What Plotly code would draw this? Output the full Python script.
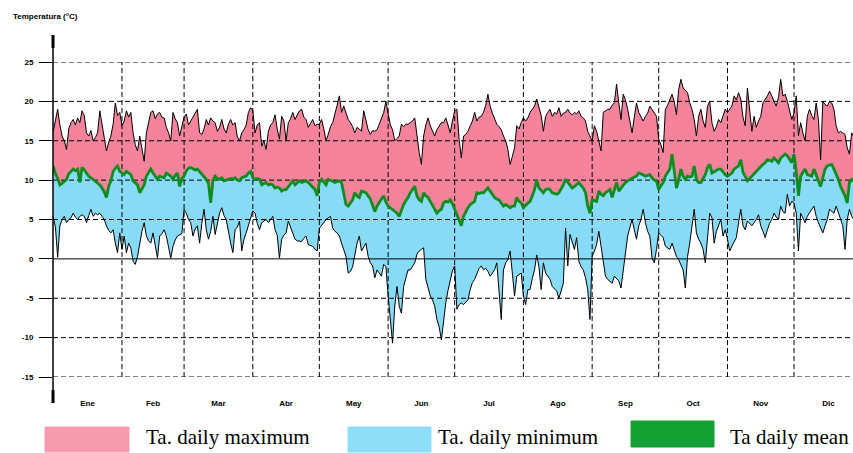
import plotly.graph_objects as go

# ---------------- data (daily values, °C) ----------------
month_labels = ["Ene", "Feb", "Mar", "Abr", "May", "Jun", "Jul", "Ago", "Sep", "Oct", "Nov", "Dic"]
month_days = [31, 28, 31, 30, 31, 30, 31, 31, 30, 31, 30, 31]
y_ticks = [-15, -10, -5, 0, 5, 10, 15, 20, 25]

t_max = [
    16.2, 17.5, 19.0, 17.0, 15.6, 15.0, 13.9, 16.5, 17.3, 17.7, 17.0, 17.9, 17.3, 18.8, 18.2, 16.0, 15.6, 16.3, 15.0, 15.4, 16.0, 18.8, 17.0, 15.6, 13.7, 14.8, 15.6, 17.1, 19.8, 18.2, 18.6,
    16.9, 17.5, 18.8, 18.0, 18.6, 16.0, 14.5, 13.7, 15.6, 14.0, 12.4, 16.0, 17.5, 18.6, 18.8, 17.8, 18.4, 18.6, 18.0, 17.9, 16.7, 16.0, 15.0, 18.6, 17.8, 17.3, 15.6, 16.8,
    18.0, 18.4, 17.0, 17.5, 18.1, 18.5, 19.0, 16.0, 15.8, 16.5, 17.7, 17.0, 17.9, 17.5, 17.3, 16.2, 16.7, 17.7, 16.5, 16.0, 17.1, 17.7, 17.0, 17.3, 15.5, 15.0, 16.0, 16.4, 17.0, 18.6, 19.2,
    18.8, 16.0, 17.0, 17.3, 14.3, 15.0, 13.9, 16.2, 17.0, 17.3, 18.3, 16.5, 15.2, 18.1, 17.5, 15.0, 17.3, 17.8, 18.6, 17.7, 18.2, 18.8, 19.0, 18.0, 17.7, 16.7, 17.2, 17.7, 16.9, 17.1,
    17.1, 17.7, 16.5, 15.0, 15.8, 16.8, 17.3, 18.3, 19.5, 20.7, 18.6, 19.4, 18.5, 17.7, 17.3, 16.8, 16.0, 16.7, 16.5, 16.2, 18.8, 17.5, 16.4, 15.8, 16.3, 16.2, 16.4, 17.1, 17.8, 18.6, 20.0,
    18.3, 17.0, 16.4, 15.0, 15.3, 15.6, 17.1, 16.8, 17.1, 17.1, 17.3, 17.5, 17.9, 15.6, 13.5, 12.0, 15.6, 17.0, 17.9, 16.9, 16.2, 15.6, 16.4, 16.8, 17.3, 17.3, 17.9, 17.0, 16.0, 17.5,
    18.8, 19.0, 15.2, 12.8, 15.6, 15.8, 16.2, 16.9, 17.5, 18.6, 17.5, 18.0, 18.1, 18.6, 19.5, 20.9, 19.4, 18.5, 17.7, 17.1, 16.8, 16.4, 15.6, 15.0, 13.9, 12.0, 13.0, 14.1, 16.9, 16.5, 17.3,
    17.9, 17.5, 17.9, 18.6, 19.0, 19.4, 20.3, 19.4, 18.2, 16.2, 18.1, 18.6, 19.0, 18.1, 18.6, 18.4, 19.2, 18.1, 18.5, 18.6, 19.0, 18.5, 18.3, 18.6, 18.4, 18.8, 18.1, 17.9, 17.5, 16.2, 15.5,
    15.0, 16.9, 16.2, 15.0, 13.7, 18.6, 18.8, 19.0, 19.0, 19.5, 19.8, 22.2, 19.8, 17.7, 20.9, 20.2, 19.0, 17.7, 16.0, 18.0, 19.8, 18.6, 18.0, 17.5, 18.1, 18.5, 19.4, 19.0, 18.6, 18.1,
    15.2, 14.5, 13.5, 19.0, 19.5, 20.3, 20.9, 20.0, 18.3, 21.5, 22.8, 21.7, 21.4, 21.1, 19.8, 19.0, 17.7, 15.6, 18.1, 19.0, 17.5, 16.7, 19.4, 20.0, 17.3, 16.2, 16.8, 17.7, 17.3, 18.2, 19.0,
    18.6, 19.0, 19.4, 20.7, 20.2, 21.1, 20.3, 18.0, 16.9, 21.7, 19.0, 16.2, 18.1, 16.7, 17.5, 18.1, 19.8, 20.2, 20.7, 21.3, 20.7, 20.0, 19.4, 20.5, 22.8, 20.7, 20.9, 20.0, 19.0, 17.7,
    18.5, 20.7, 15.6, 17.3, 16.0, 15.0, 18.1, 19.0, 18.2, 17.7, 19.8, 17.7, 12.6, 20.0, 19.6, 19.4, 20.0, 19.8, 19.0, 16.9, 16.0, 16.2, 16.0, 15.8, 14.1, 13.3, 16.0, 15.5, 16.0, 15.0, 15.5,
]

t_mean = [
    11.8, 10.8, 10.2, 9.4, 9.6, 9.9, 10.1, 10.8, 11.1, 11.4, 11.2, 11.4, 9.7, 11.6, 11.3, 10.9, 10.5, 10.3, 10.1, 9.8, 9.6, 9.4, 9.0, 8.5, 7.8, 9.2, 9.9, 11.1, 11.5, 11.8, 11.1,
    10.9, 10.7, 11.1, 10.9, 10.7, 9.9, 9.6, 9.4, 8.4, 8.9, 9.4, 10.5, 11.0, 11.4, 10.9, 10.5, 10.1, 10.5, 10.4, 10.3, 10.9, 10.7, 10.5, 10.1, 10.6, 10.9, 9.2, 10.2,
    10.5, 11.2, 11.5, 11.6, 11.4, 11.3, 11.4, 11.1, 10.8, 10.5, 10.1, 9.6, 7.1, 10.0, 10.5, 10.2, 10.1, 10.3, 9.9, 10.0, 10.1, 10.2, 10.1, 10.3, 10.0, 9.9, 10.3, 10.4, 10.5, 10.9, 11.1,
    10.3, 10.1, 10.2, 10.1, 9.4, 9.5, 9.7, 9.4, 9.5, 9.4, 9.0, 9.1, 9.0, 8.6, 8.8, 8.8, 9.2, 9.6, 9.9, 9.4, 9.6, 9.9, 9.7, 9.8, 9.9, 9.7, 9.4, 9.2, 8.8, 8.0,
    9.7, 10.1, 9.8, 9.4, 10.1, 10.0, 9.9, 9.7, 9.8, 9.9, 9.7, 8.5, 6.9, 6.7, 7.1, 7.5, 8.4, 8.0, 7.8, 8.6, 8.5, 8.4, 8.0, 7.6, 6.8, 6.0, 6.7, 7.2, 7.6, 8.0, 7.2,
    6.7, 6.5, 6.3, 6.1, 5.8, 5.4, 6.2, 6.9, 7.4, 7.8, 8.4, 8.8, 9.2, 8.0, 7.5, 7.3, 8.4, 8.0, 7.8, 7.3, 6.8, 6.3, 5.8, 6.1, 6.3, 7.1, 7.3, 7.2, 7.5, 7.0,
    6.3, 5.4, 4.8, 4.2, 5.4, 6.0, 6.5, 6.9, 7.1, 7.3, 8.4, 8.3, 8.4, 8.4, 8.7, 9.0, 8.6, 8.2, 7.8, 7.6, 7.5, 7.1, 6.7, 6.9, 6.7, 6.5, 6.7, 6.7, 7.8, 7.3, 7.1,
    6.5, 6.8, 7.0, 7.3, 8.0, 8.8, 10.0, 9.0, 8.7, 8.4, 8.8, 8.9, 8.8, 8.4, 8.3, 8.2, 8.4, 8.9, 9.4, 10.1, 9.7, 9.4, 9.0, 9.2, 9.4, 9.7, 9.3, 9.0, 8.4, 6.7, 5.8,
    7.5, 7.4, 7.3, 8.6, 8.2, 8.0, 8.4, 8.6, 8.8, 7.8, 8.8, 9.7, 8.6, 9.0, 9.4, 9.7, 9.9, 10.1, 10.3, 10.4, 10.5, 10.9, 10.8, 10.7, 10.5, 10.6, 10.7, 10.3, 10.0, 9.9,
    8.8, 9.3, 9.7, 10.5, 11.0, 11.4, 13.3, 10.9, 9.0, 10.0, 11.4, 10.5, 10.1, 10.5, 10.4, 10.5, 11.8, 10.1, 9.7, 9.7, 10.2, 10.7, 11.6, 12.0, 10.9, 11.1, 11.3, 11.4, 11.4, 11.0, 10.7,
    10.5, 10.7, 10.9, 11.4, 11.6, 11.8, 12.6, 11.0, 10.5, 9.9, 10.2, 10.5, 10.9, 11.2, 11.4, 11.8, 12.0, 12.2, 12.6, 12.5, 12.4, 12.8, 12.5, 12.2, 12.8, 13.0, 13.3, 13.1, 12.6, 12.2,
    13.3, 11.1, 8.0, 10.5, 11.0, 11.4, 10.7, 10.6, 10.5, 11.4, 10.5, 9.9, 9.2, 10.5, 11.4, 11.8, 11.9, 12.0, 11.4, 10.8, 10.1, 9.2, 8.6, 8.0, 7.1, 9.7, 10.1, 9.8, 10.0, 9.8, 10.0,
]

t_min = [
    5.3, 4.0, 0.2, 4.2, 5.0, 5.4, 4.6, 5.0, 5.2, 5.8, 5.3, 5.0, 5.4, 5.6, 5.4, 4.6, 5.5, 6.3, 5.4, 5.8, 5.6, 5.8, 5.4, 5.0, 4.2, 3.6, 3.3, 3.7, 2.0, 0.8, 3.3,
    1.2, 2.9, 0.8, 2.0, 1.4, -0.3, -0.7, 0.3, 2.0, 3.5, 4.6, 2.9, 2.3, 2.0, 3.3, 1.5, 0.1, 2.9, 3.2, 3.7, 2.9, 1.5, 0.1, 1.6, 2.4, 2.9, 3.1, 3.2,
    6.3, 5.8, 5.0, 4.6, 2.9, 3.8, 4.2, 2.0, 4.5, 6.3, 3.7, 2.5, 3.5, 5.4, 3.1, 4.5, 5.8, 6.5, 5.5, 5.0, 3.3, 2.0, 0.8, 3.7, 4.0, 4.8, 1.0, 2.5, 3.3, 4.2, 5.2,
    6.1, 5.8, 4.5, 3.7, 4.6, 4.8, 5.0, 4.6, 5.0, 5.4, 3.7, 3.0, 0.1, 2.5, 3.0, 3.3, 4.8, 4.0, 3.3, 2.5, 2.3, 2.2, 2.2, 2.6, 2.9, 1.8, 1.7, 1.6, 1.2, 1.0,
    3.9, 4.2, 4.6, 5.0, 5.2, 5.4, 3.9, 3.5, 3.3, 2.9, 2.0, 1.2, 0.3, -1.8, -1.6, -1.0, 0.8, 2.0, 2.9, 1.0, 1.5, 2.0, 0.3, -0.5, -0.9, -2.4, -1.4, -1.8, -2.2, -0.7, -1.0,
    -4.7, -8.1, -10.7, -6.0, -3.5, -6.0, -6.9, -3.5, -2.5, -1.4, -1.4, -1.0, -0.5, 0.6, 1.0, 1.2, 1.4, -2.6, -3.5, -4.7, -5.2, -6.0, -7.7, -8.6, -10.3, -7.7, -5.6, -4.0, -2.6, -1.5,
    -0.9, -6.4, -5.8, -5.6, -5.8, -5.5, -5.2, -3.9, -3.0, -2.6, -1.8, -1.2, -0.9, -1.4, -1.2, -1.6, -2.2, -1.8, -1.4, -0.5, -3.9, -7.7, -1.4, -0.5, -0.1, 1.0, -1.8, -4.7, -2.2, -2.0, -1.8,
    -4.7, -5.8, -3.9, -3.9, -2.5, -1.4, 0.5, -1.0, -3.9, -0.5, -1.8, -2.2, -2.6, -3.5, -3.8, -4.1, -5.0, -4.0, -3.1, 3.9, -0.9, 3.1, 2.0, 1.2, 2.7, -0.3, -1.0, -1.4, -2.4, -3.9, -7.7,
    0.3, 1.0, 1.8, 3.5, 1.5, 0.0, -2.2, -2.6, -2.9, -3.1, -2.2, -2.5, -2.8, -3.7, -1.4, 0.3, 2.9, 4.0, 5.0, 3.7, 2.5, 4.2, 5.0, 6.3, 4.6, 3.5, 2.9, 0.1, -0.5, 1.2,
    3.3, 3.0, 2.7, 1.6, 1.4, 1.2, 2.0, 1.0, 0.3, -0.1, -0.8, -1.4, -3.7, 0.3, 2.0, 4.5, 6.3, 3.3, 2.5, 2.0, 1.2, -0.5, 2.9, 5.8, 5.2, 2.0, 3.5, 4.2, 5.0, 2.9, 3.7,
    2.5, 1.0, 1.6, 2.2, 2.7, 4.6, 6.3, 4.2, 3.7, 4.8, 4.5, 4.2, 4.6, 5.0, 5.6, 4.2, 3.5, 2.7, 3.7, 4.5, 5.0, 5.8, 5.3, 5.0, 6.7, 6.0, 5.8, 8.2, 6.7, 7.3,
    7.1, 5.8, 1.0, 5.8, 5.2, 4.6, 5.4, 5.9, 6.3, 6.7, 5.4, 4.6, 3.9, 3.3, 4.2, 5.0, 6.3, 6.0, 5.8, 6.7, 5.8, 5.0, 4.2, 1.2, 5.0, 6.3, 5.4, 5.0, 5.5, 5.2, 5.0,
]

legend_names = ["Ta. daily maximum", "Ta. daily minimum", "Ta daily mean"]

# ---------------- derived ----------------
days = list(range(len(t_max)))
starts = []
acc = 0
for n in month_days:
    starts.append(acc)
    acc += n
month_centers = [s + n / 2 for s, n in zip(starts, month_days)]
boundaries = starts[1:]

W, H = 853, 453
L, R, T, B = 53, 0, 62, 76
X_RANGE = [-0.1, 360.6]
Y_RANGE = [-15, 25]

def px_x(px):
    return (px - L) / (W - L - R)

def px_y(py):
    return (H - B - py) / (H - T - B)

PINK = "#F4839B"
BLUE = "#87DBF6"
GREEN_LINE = "#0F8C1E"
PINK_LEG = "#F69BAD"
BLUE_LEG = "#8EDEF8"
GREEN_LEG = "#13A134"
DASH = "5px,3px"

fig = go.Figure()

# fills
fig.add_trace(go.Scatter(x=days, y=t_min, mode="lines", line=dict(width=0, color=BLUE),
                         showlegend=False, hoverinfo="skip"))
fig.add_trace(go.Scatter(x=days, y=t_mean, mode="lines", line=dict(width=0, color=BLUE),
                         fill="tonexty", fillcolor=BLUE, showlegend=False, hoverinfo="skip"))
fig.add_trace(go.Scatter(x=days, y=t_max, mode="lines", line=dict(width=0, color=PINK),
                         fill="tonexty", fillcolor=PINK, showlegend=False, hoverinfo="skip"))

# grid (drawn above the fills)
for v in y_ticks:
    fig.add_trace(go.Scatter(x=X_RANGE, y=[v, v], mode="lines",
                             line=dict(color="black", width=1, dash=("solid" if v == 0 else DASH)),
                             showlegend=False, hoverinfo="skip"))
for b in boundaries:
    fig.add_trace(go.Scatter(x=[b, b], y=Y_RANGE, mode="lines",
                             line=dict(color="black", width=1, dash=DASH),
                             showlegend=False, hoverinfo="skip"))

# series lines
fig.add_trace(go.Scatter(x=days, y=t_min, mode="lines", line=dict(color="black", width=1),
                         name=legend_names[1], showlegend=False))
fig.add_trace(go.Scatter(x=days, y=t_max, mode="lines", line=dict(color="black", width=1),
                         name=legend_names[0], showlegend=False))
fig.add_trace(go.Scatter(x=days, y=t_mean, mode="lines", line=dict(color=GREEN_LINE, width=2.8),
                         name=legend_names[2], showlegend=False))

tick_font = dict(family="Liberation Sans", size=8, color="black", weight="bold")

fig.update_layout(
    width=W, height=H,
    margin=dict(l=L, r=R, t=T, b=B),
    paper_bgcolor="white", plot_bgcolor="white",
    showlegend=False,
    xaxis=dict(range=X_RANGE, tickmode="array", tickvals=month_centers, ticktext=month_labels,
               showgrid=False, zeroline=False, showline=False, ticks="",
               ticklabelstandoff=20, tickfont=tick_font, fixedrange=True),
    yaxis=dict(range=Y_RANGE, tickmode="array", tickvals=y_ticks,
               ticktext=[str(v) for v in y_ticks],
               showgrid=False, zeroline=False, showline=False,
               ticks="outside", ticklen=13, tickcolor="black", tickwidth=1,
               ticklabelstandoff=4, tickfont=tick_font, fixedrange=True),
)

shapes = []
# vertical axis line extending beyond plot area
shapes.append(dict(type="line", xref="paper", yref="paper", x0=0, x1=0,
                   y0=px_y(403), y1=px_y(35), line=dict(color="black", width=1.5), layer="above"))
shapes.append(dict(type="line", xref="paper", yref="paper", x0=0, x1=0,
                   y0=px_y(48), y1=px_y(35), line=dict(color="black", width=3), layer="above"))
shapes.append(dict(type="line", xref="paper", yref="paper", x0=0, x1=0,
                   y0=px_y(403), y1=px_y(390), line=dict(color="black", width=3), layer="above"))

# legend boxes
legend_boxes = [
    (45, 427, 129, 452, PINK_LEG),
    (348, 427, 431, 452, BLUE_LEG),
    (631, 421, 714, 447, GREEN_LEG),
]
for x0, y0, x1, y1, c in legend_boxes:
    shapes.append(dict(type="rect", xref="paper", yref="paper",
                       x0=px_x(x0), x1=px_x(x1), y0=px_y(y1), y1=px_y(y0),
                       fillcolor=c, line=dict(color=c, width=1), layer="above"))
fig.update_layout(shapes=shapes)

annotations = [
    dict(text="<b>Temperatura (°C)</b>", xref="paper", yref="paper", x=px_x(11), y=px_y(16),
         xanchor="left", yanchor="middle", showarrow=False,
         font=dict(family="Liberation Sans", size=8, color="black")),
]
legend_text_x = [144, 436, 728]
for name, tx in zip(legend_names, legend_text_x):
    annotations.append(dict(text=name, xref="paper", yref="paper", x=px_x(tx), y=px_y(437),
                            xanchor="left", yanchor="middle", showarrow=False,
                            font=dict(family="Liberation Serif", size=21, color="black")))
fig.update_layout(annotations=annotations)

fig.write_html("out.html",
               config={"displayModeBar": False},
               post_script="document.body.style.margin='0';document.body.style.overflow='hidden';")
